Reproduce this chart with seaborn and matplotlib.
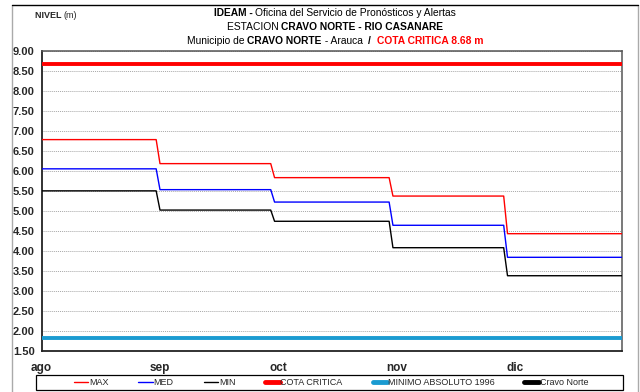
import numpy as np
import pandas as pd
import matplotlib
matplotlib.use("Agg")
import matplotlib.pyplot as plt
from matplotlib.lines import Line2D
from matplotlib.patches import Rectangle
import seaborn as sns

# Monthly levels (m) at Cravo Norte station, Rio Casanare
months = ["ago", "sep", "oct", "nov", "dic"]
days_in_month = [31, 30, 31, 30, 31]
max_vals = [6.78, 6.18, 5.83, 5.37, 4.43]
med_vals = [6.05, 5.53, 5.22, 4.64, 3.84]
min_vals = [5.50, 5.02, 4.74, 4.08, 3.38]
cota_critica = 8.68
minimo_absoluto = 1.82

y_ticks = np.arange(1.5, 9.01, 0.5)

sns.set_style("white")
FAM = ["Liberation Sans", "DejaVu Sans"]
plt.rcParams["font.family"] = FAM

# daily series: each month keeps its level for all its days
n_days = sum(days_in_month)
day = np.arange(n_days)
df = pd.DataFrame({
    "dia": np.concatenate([day] * 5),
    "nivel": np.concatenate([
        np.repeat(max_vals, days_in_month),
        np.repeat(med_vals, days_in_month),
        np.repeat(min_vals, days_in_month),
        np.full(n_days, cota_critica),
        np.full(n_days, minimo_absoluto),
    ]),
    "serie": np.repeat(["MAX", "MED", "MIN", "COTA CRITICA", "MINIMO ABSOLUTO 1996"], n_days),
})

colors = {"MAX": "#FF0000", "MED": "#0000FF", "MIN": "#000000",
          "COTA CRITICA": "#FF0000", "MINIMO ABSOLUTO 1996": "#1B9BD1"}
widths = {"MAX": 1.0, "MED": 1.0, "MIN": 1.0,
          "COTA CRITICA": 2.8, "MINIMO ABSOLUTO 1996": 2.8}

fig = plt.figure(figsize=(6.4, 3.92), dpi=100)
ax = fig.add_axes([0.065, 0.1046, 0.907, 0.766])

for name in ["MINIMO ABSOLUTO 1996", "COTA CRITICA", "MIN", "MED", "MAX"]:
    sns.lineplot(data=df[df["serie"] == name], x="dia", y="nivel", ax=ax,
                 color=colors[name], linewidth=widths[name], legend=False,
                 zorder=3)

ax.set_xlim(0, n_days - 1)
ax.set_ylim(1.5, 9.0)
ax.set_yticks(y_ticks)
ax.set_yticklabels([f"{v:.2f}" for v in y_ticks], fontweight="bold", fontsize=8)
tick_pos = np.arange(len(months)) * 31
ax.set_xticks(tick_pos)
ax.set_xticklabels(months, fontweight="bold", fontsize=8.5)
ax.set_xlabel("")
ax.set_ylabel("")
ax.tick_params(axis="both", direction="out", length=4, width=0.8, color="#222222")
ax.tick_params(axis="y", pad=1)
ax.tick_params(axis="x", pad=4)
ax.grid(axis="y", linestyle=(0, (1, 1)), color="#a8a8a8", linewidth=0.7, zorder=1)
ax.grid(axis="x", visible=False)
for side in ["left", "bottom"]:
    ax.spines[side].set_color("#222222")
    ax.spines[side].set_linewidth(1.3)
for side in ["top", "right"]:
    ax.spines[side].set_color("#555555")
    ax.spines[side].set_linewidth(1.1)

# outer frame of the figure
fig.add_artist(Line2D([12 / 640, 12 / 640], [0, 1 - 5 / 392], transform=fig.transFigure,
                      color="#aaaaaa", linewidth=1.0))
fig.add_artist(Line2D([638 / 640, 638 / 640], [0, 1 - 5 / 392], transform=fig.transFigure,
                      color="#aaaaaa", linewidth=1.0))
fig.add_artist(Line2D([12 / 640, 638 / 640], [1 - 5 / 392, 1 - 5 / 392], transform=fig.transFigure,
                      color="#000000", linewidth=1.0))

# title lines with mixed weights
renderer = fig.canvas.get_renderer()


def rich_line(y_px, parts, size, cx_px=335):
    texts = []
    for s, weight, color in parts:
        texts.append(fig.text(0, 1 - y_px / 392, s, fontsize=size, fontweight=weight,
                              color=color, va="center", ha="left"))
    ws = [t.get_window_extent(renderer).width for t in texts]
    x = cx_px - sum(ws) / 2
    for t, w in zip(texts, ws):
        t.set_x(x / 640)
        x += w


rich_line(13.5, [("IDEAM - ", "bold", "black"),
                 ("Oficina del Servicio de Pronósticos y Alertas", "normal", "black")], 7.4)
rich_line(27, [("ESTACION ", "normal", "black"),
               ("CRAVO NORTE - RIO CASANARE", "bold", "black")], 7.4)
rich_line(40.5, [("Municipio de ", "normal", "black"),
                 ("CRAVO NORTE", "bold", "black"),
                 (" - Arauca  ", "normal", "black"),
                 ("/  ", "bold", "black"),
                 ("COTA CRITICA 8.68 m", "bold", "#FF0000")], 7.4)

t1 = fig.text(35 / 640, 1 - 15 / 392, "NIVEL ", fontsize=6.5, fontweight="bold",
              va="center", ha="left")
w1 = t1.get_window_extent(renderer).width
fig.text((35 + w1) / 640, 1 - 15 / 392, "(m)", fontsize=6.5,
         va="center", ha="left")

# legend
handles = [Line2D([], [], color=colors["MAX"], lw=1.0),
           Line2D([], [], color=colors["MED"], lw=1.0),
           Line2D([], [], color=colors["MIN"], lw=1.0),
           Line2D([], [], color=colors["COTA CRITICA"], lw=3.5),
           Line2D([], [], color=colors["MINIMO ABSOLUTO 1996"], lw=3.5),
           Line2D([], [], color="#000000", lw=3.5)]
labels = ["MAX", "MED", "MIN", "COTA CRITICA", "MINIMO ABSOLUTO 1996", "Cravo Norte"]
fig.add_artist(Rectangle((36 / 640, 1 - 390 / 392), 587 / 640, 15 / 392,
                         transform=fig.transFigure, fill=False, edgecolor="black",
                         linewidth=0.9))
fig.legend(handles, labels, loc="center", bbox_to_anchor=(331 / 640, 1 - 382.5 / 392),
           ncol=6, frameon=False, prop={"size": 6.5},
           handlelength=1.6, handletextpad=0.1, columnspacing=3.3,
           borderpad=0, borderaxespad=0)

fig.savefig("out.png", dpi=100)
